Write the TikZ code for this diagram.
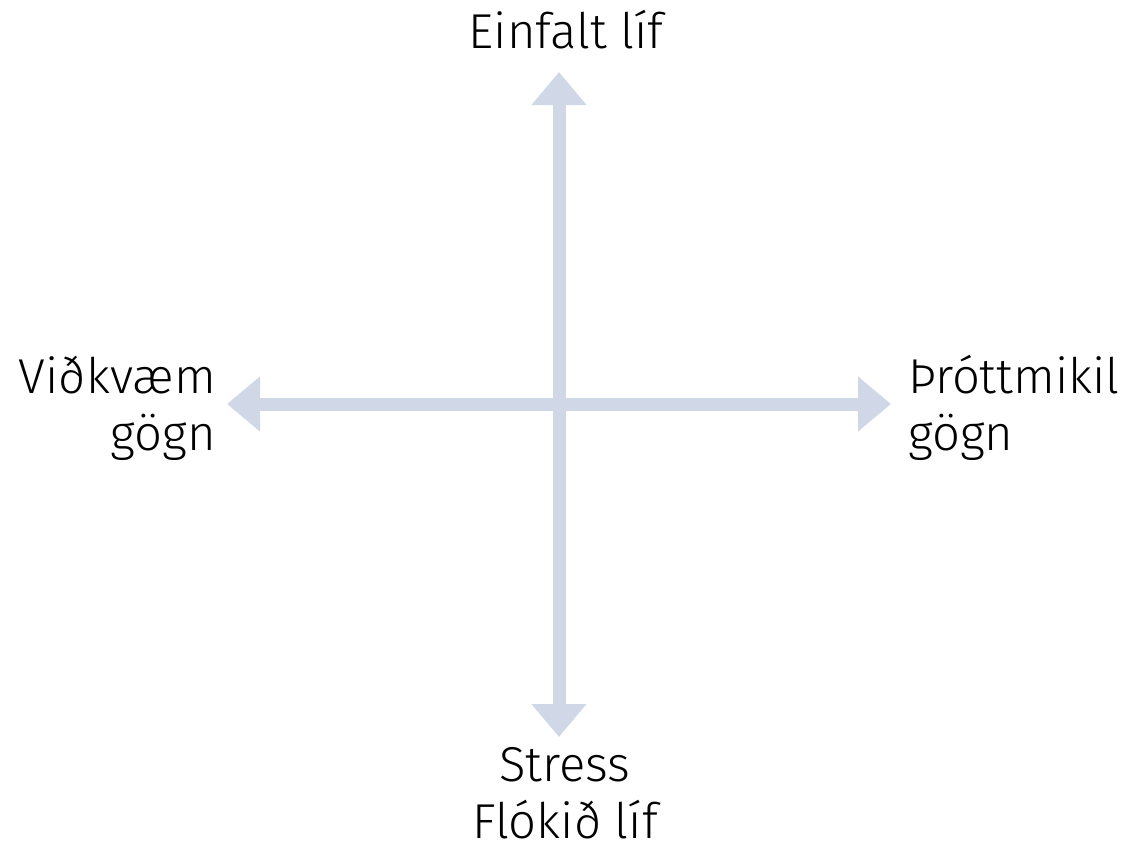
\documentclass[tikz,border=0pt]{standalone}
\usepackage{fontspec}
\setmainfont{Fira Sans}[UprightFont=* Light]
\usetikzlibrary{arrows.meta}
\definecolor{axiscol}{HTML}{D0D8E8}
\tikzset{
  axis/.style={draw=axiscol,line width=13pt,
    arrows={Triangle[width=53pt,length=33pt,fill=axiscol]-Triangle[width=53pt,length=33pt,fill=axiscol]}},
  lbl/.style={inner sep=0pt,font=\fontsize{49}{57}\selectfont}
}
\begin{document}
\begin{tikzpicture}[x=1pt,y=-1pt]
\useasboundingbox (0,0) rectangle (1133,841);
\coordinate (top) at (559,72);
\coordinate (bot) at (559,737);
\coordinate (lft) at (227,404);
\coordinate (rgt) at (891,404);
\draw[axis] (top) -- (bot);
\draw[axis] (lft) -- (rgt);
\node[lbl,anchor=base] (tl) at (566,48) {Einfalt líf};
\node[lbl,anchor=base,align=center] (bl) at (565,838) {Stress\\Flókið líf};
\node[lbl,anchor=base east,align=right] (ll) at (216,450) {Viðkvæm\\gögn};
\node[lbl,anchor=base west,align=left] (rl) at (908,450) {Þróttmikil\\gögn};
\end{tikzpicture}
\end{document}
